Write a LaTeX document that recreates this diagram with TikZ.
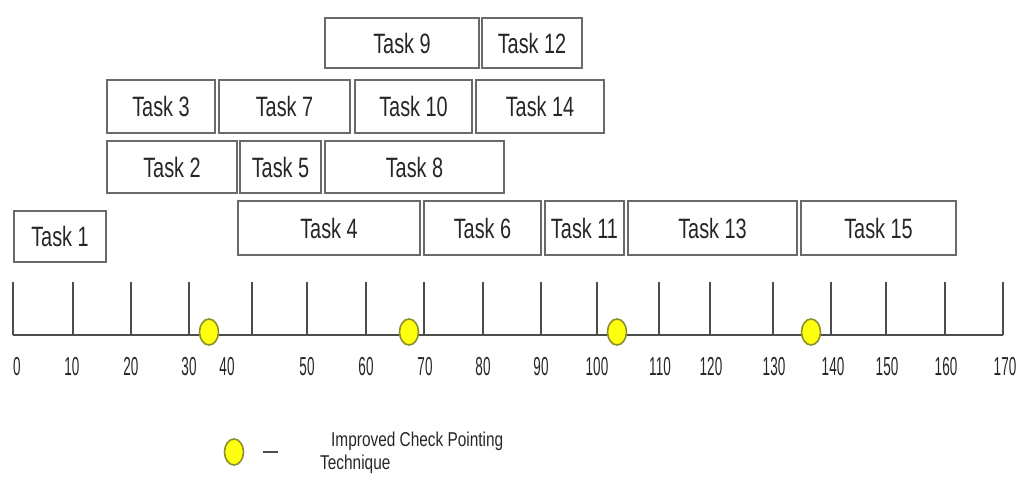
\documentclass[tikz,border=0pt]{standalone}
\usepackage{fontspec}
\setmainfont{Liberation Sans}
\newfontfamily\taskfont[FakeStretch=0.71]{Liberation Sans}
\newfontfamily\numfont[FakeStretch=0.52]{Liberation Sans}
\newfontfamily\legfont[FakeStretch=0.77]{Liberation Sans}
\usetikzlibrary{shapes.geometric}
\definecolor{chkfill}{HTML}{FFFF10}
\definecolor{chkline}{HTML}{8E8E2C}
\definecolor{boxline}{HTML}{6A6A6A}
\tikzset{
  taskbox/.style={draw=boxline, line width=1.4pt, inner sep=0pt, text=black!85,
    font=\taskfont\fontsize{28}{30}\selectfont},
  chk/.style={ellipse, draw=chkline, line width=1.6pt, fill=chkfill,
    minimum width=19pt, minimum height=26pt, inner sep=0pt},
  axis/.style={draw=black!70, line width=1.8pt},
  tick/.style={draw=black!70, line width=1.3pt},
  num/.style={font=\numfont\fontsize{26}{28}\selectfont, text=black!85, inner sep=0pt},
  keytext/.style={anchor=base west, inner sep=0pt, text=black!85,
    font=\legfont\fontsize{20}{22}\selectfont}
}
\begin{document}
\begin{tikzpicture}[x=1pt,y=-1pt]
\useasboundingbox (0,0) rectangle (1019,477);
% task boxes: number / left / right / top / bottom
\foreach \n/\xa/\xb/\ya/\yb in {
  1/14/106/211/262,
  2/107/237/141/193, 3/107/215/80/133,
  4/238/420/201/255, 5/240/321/141/193,
  6/424/541/201/255, 7/219/350/80/133,
  8/325/504/141/193, 9/325/479/18/68,
  10/355/472/80/133, 11/545/624/201/255,
  12/482/582/18/68, 13/628/797/201/255,
  14/476/604/80/133, 15/801/956/201/255}
  \node[taskbox, minimum width=\xb pt-\xa pt, minimum height=\yb pt-\ya pt]
    (t\n) at ({(\xa+\xb)/2},{(\ya+\yb)/2}) {Task \n};
% time axis
\draw[axis] (13,335) -- (1003,335);
\foreach \x in {13,73,131,189,252,307,366,424,483,541,597,659,710,773,831,886,945,1003}
  \draw[tick] (\x,282) -- (\x,335);
\foreach \x/\v in {17/0,72/10,131/20,189/30,227/40,307/50,366/60,425/70,483/80,
  541/90,597/100,660/110,711/120,774/130,833/140,887/150,946/160,1005/170}
  \node[num] (l\v) at (\x,367) {\v};
% check points
\node[chk] (c1) at (209,332) {};
\node[chk] (c2) at (409,332) {};
\node[chk] (c3) at (617,332) {};
\node[chk] (c4) at (811,332) {};
% legend
\node[chk] (key) at (234,452) {};
\draw[black!70, line width=1.2pt] (263,452) -- (278,452);
\node[keytext] (keytxt) at (331,446) {Improved Check Pointing};
\node[keytext] (keytxt2) at (320,469) {Technique};
\end{tikzpicture}
\end{document}
